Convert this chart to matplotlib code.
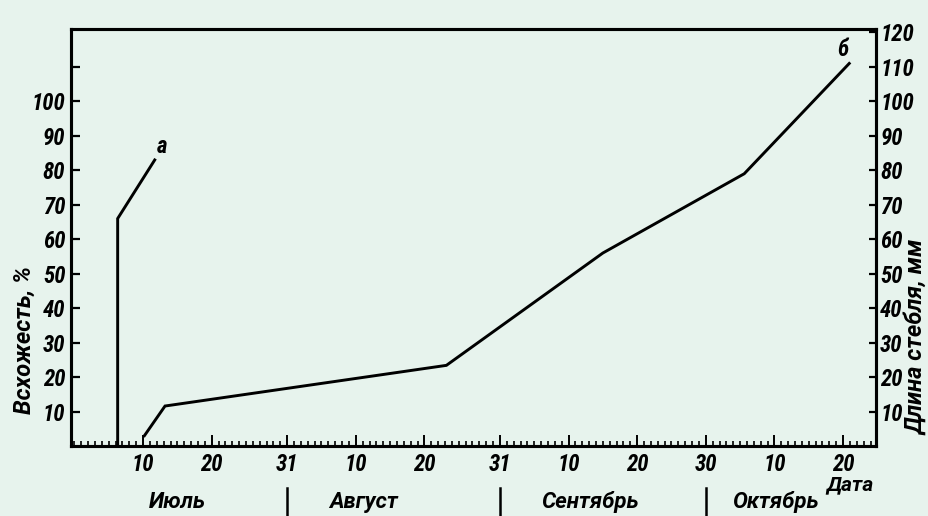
import matplotlib
matplotlib.use("Agg")
import matplotlib.pyplot as plt
import matplotlib.transforms as mtransforms
from matplotlib import font_manager as fm
import numpy as np

# ---- data (x = day counted from 30 June: July 10 = 10, Aug 10 = 41, ...) ----
curve_a_x = [6.3, 6.3, 11.7]
curve_a_y = [0, 66, 83]           # Всхожесть, %
curve_b_x = [10.2, 13.2, 54.2, 77.0, 97.6, 112.9]
curve_b_y = [3, 11.6, 23.4, 56, 79, 111]   # Длина стебля, мм

x_major = [10, 20, 31, 41, 51, 62, 72, 82, 92, 102, 112]
x_major_labels = ['10', '20', '31', '10', '20', '31', '10', '20', '30', '10', '20']
month_names = ['Июль', 'Август', 'Сентябрь', 'Октябрь']
month_pos = [15.0, 42.2, 75.1, 102.1]
month_seps = [31, 62, 92]
left_ticks = list(range(10, 120, 10))
left_labels = [str(v) if v <= 100 else '' for v in left_ticks]
right_ticks = list(range(10, 130, 10))
right_labels = [str(v) for v in right_ticks]

BG = '#e7f3ed'
installed = {f.name for f in fm.fontManager.ttflist}
narrow = None
for cand in ['Roboto Condensed', 'Liberation Sans Narrow', 'DejaVu Sans Condensed',
             'Open Sans Condensed', 'Noto Sans Condensed']:
    if cand in installed:
        narrow = cand
        break
if narrow:
    FONT = [narrow, 'DejaVu Sans']
    FS = 16.5
else:
    FONT = ['DejaVu Sans']
    FS = 13
WIDE = ['Roboto', 'DejaVu Sans'] if 'Roboto' in installed else ['DejaVu Sans']
WFS = 16 if 'Roboto' in installed else 14
plt.rcParams['font.family'] = FONT
plt.rcParams['font.style'] = 'italic'
plt.rcParams['font.weight'] = 'bold'

fig = plt.figure(figsize=(9.29, 5.16), dpi=100, facecolor=BG)
ax = fig.add_axes([71/929, 1-446/516, (876-71)/929, (446-29)/516])
ax.set_facecolor(BG)
ax2 = ax.twinx()

ax.set_xlim(-0.5, 116.8)
ax.set_ylim(0, 121)
ax2.set_ylim(0, 121)

ax.plot(curve_a_x, curve_a_y, color='black', lw=2.1, solid_joinstyle='miter')
ax2.plot(curve_b_x, curve_b_y, color='black', lw=2.1, solid_joinstyle='miter')

ax.text(12.8, 87, 'а', fontsize=FS, ha='center', va='center')
ax2.text(111.9, 115, 'б', fontsize=FS, ha='center', va='center')

for a in (ax, ax2):
    for s in a.spines.values():
        s.set_linewidth(2.2)
        s.set_color('black')

ax.set_xticks(x_major)
ax.set_xticklabels(x_major_labels)
ax.set_xticks(np.arange(0, 117, 1), minor=True)
ax.tick_params(axis='x', which='major', direction='in', length=8, width=1.4,
               pad=5, labelsize=FS)
ax.tick_params(axis='x', which='minor', direction='in', length=3.5, width=1.2)

ax.set_yticks(left_ticks)
ax.set_yticklabels(left_labels)
ax.tick_params(axis='y', direction='in', length=6.5, width=1.6, pad=4, labelsize=FS)

ax2.set_yticks(right_ticks)
ax2.set_yticklabels(right_labels)
ax2.tick_params(axis='y', direction='in', length=5, width=1.6, pad=3, labelsize=FS)

trans = mtransforms.blended_transform_factory(ax.transData, fig.transFigure)
for name, xp in zip(month_names, month_pos):
    ax.text(xp, 1-502/516, name, transform=trans, fontsize=WFS,
            family=WIDE, ha='center', va='center', clip_on=False)
for xs in month_seps:
    ax.plot([xs, xs], [1-488/516, 0], transform=trans, color='black',
            lw=1.8, clip_on=False)
ax.text(113.0, 1-485/516, 'Дата', transform=trans, fontsize=WFS - 1,
        family=WIDE, ha='center', va='center', clip_on=False)

fig.text(24/929, 1-340/516, 'Всхожесть, %', rotation=90, fontsize=WFS + 1,
         family=WIDE, ha='center', va='center')
fig.text(917/929, 1-337/516, 'Длина стебля, мм', rotation=90, fontsize=WFS + 1,
         family=WIDE, ha='center', va='center')

fig.savefig('out.png', dpi=100, facecolor=BG)
